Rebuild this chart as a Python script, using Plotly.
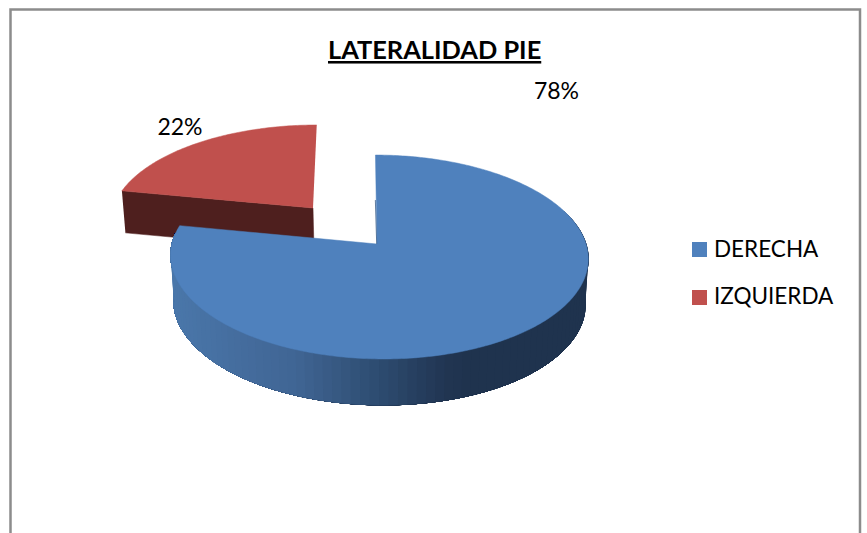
import numpy as np
import plotly.graph_objects as go

# ---- data ----
categories = ["DERECHA", "IZQUIERDA"]
values = [78, 22]
title_text = "LATERALIDAD PIE"

# ---- style / layout constants ----
FONT = "Lato, Carlito, Calibri, sans-serif"
BLUE, RED = "#4F81BD", "#C0504D"
RED_WALL = "#4E1F1E"
K = 0.1275  # perspective


def project(t, cx, cy, rx, ry, skew=0.0, r=1.0):
    """Angle t (deg, clockwise from 12 o'clock) -> plot position on a tilted disc."""
    a = np.radians(t)
    u, v = r * np.sin(a), r * np.cos(a)
    w = 1 + K * v
    return cx + (rx * u + skew * v) / w, cy - ry * v / w


def wall_colour(x):
    stops_x = [174, 300, 380, 450, 470, 590]
    stops = np.array([[74, 119, 170], [64, 101, 148], [46, 77, 114],
                      [33, 53, 82], [31, 51, 78], [31, 51, 78]], float)
    c = [np.interp(x, stops_x, stops[:, i]) for i in range(3)]
    return "rgb(%d,%d,%d)" % tuple(round(q) for q in c)


fig = go.Figure()


def poly(xs, ys, colour, line=0.5):
    fig.add_trace(go.Scatter(x=list(xs), y=list(ys), mode="lines", fill="toself",
                             fillcolor=colour,
                             line=dict(color=colour, width=line, simplify=False),
                             hoverinfo="skip", showlegend=False))


# angles from values (clockwise from 12 o'clock)
split = 360 * values[0] / sum(values)
blue_t = np.linspace(0, split, 300)
red_t = np.linspace(split, 360, 90)

# --- red slice (exploded, further back) ---
red = dict(cx=313.0, cy=208.0, rx=200.0, ry=93.6, skew=4.2)
rx_, ry_ = project(red_t, **red)
poly([rx_[0], red["cx"], red["cx"] + 1, rx_[0] + 3.5],
     [ry_[0], red["cy"], red["cy"] + 42, ry_[0] + 42], RED_WALL)
poly(np.r_[red["cx"], rx_], np.r_[red["cy"], ry_], RED)

# --- blue slice ---
top = dict(cx=379.0, cy=244.0, rx=207.0, ry=100.3, skew=-4.0)
bot = dict(cx=379.0, cy=290.0, rx=204.0, ry=100.3, skew=-4.0)
edges = np.linspace(70, 276, 90)
for a in edges[:-1]:  # painted from the right end, each strip overlapping the next
    ts = np.linspace(a, edges[-1], 40)
    x1, y1 = project(ts, **top)
    x2, y2 = project(ts[::-1], **bot)
    poly(np.r_[x1, x2], np.r_[y1, y2], wall_colour((x1[0] + x2[-1]) / 2))
bx, by = project(blue_t, **top)
poly(np.r_[top["cx"] - 2, bx, top["cx"] - 2], np.r_[top["cy"], by, top["cy"]], BLUE)
fig.add_trace(go.Scatter(x=[bx[0] - 0.1, top["cx"] - 2.3], y=[by[0] + 45, top["cy"]], mode="lines",
                         line=dict(color="#3A5E8A", width=0.8),
                         hoverinfo="skip", showlegend=False))

# --- percentage labels ---
fig.add_trace(go.Scatter(x=[556.5, 180], y=[93, 129.5], mode="text",
                         text=[f"{v}%" for v in values],
                         textposition="middle center",
                         textfont=dict(family=FONT, size=23, color="#000000"),
                         hoverinfo="skip", showlegend=False))

# --- legend ---
fig.add_trace(go.Scatter(x=[699.5, 699.5], y=[249.5, 297.5], mode="markers",
                         marker=dict(symbol="square", size=15, color=[BLUE, RED]),
                         hoverinfo="skip", showlegend=False))
fig.add_trace(go.Scatter(x=[714, 714], y=[251, 298], mode="text",
                         text=categories, textposition="middle right",
                         textfont=dict(family=FONT, size=22.5, color="#000000"),
                         hoverinfo="skip", showlegend=False))

fig.add_shape(type="rect", x0=10.5, y0=9.5, x1=860, y1=560, xref="x", yref="y",
              line=dict(color="#8C8C8C", width=2.5), layer="below")

fig.add_annotation(x=434.5, y=48.5, xref="x", yref="y", showarrow=False,
                   text=f"<b><u>{title_text}</u></b>",
                   font=dict(family=FONT, size=25.4, color="#000000"))

fig.update_xaxes(visible=False, range=[0, 867], fixedrange=True)
fig.update_yaxes(visible=False, range=[533, 0], fixedrange=True)
fig.update_layout(width=867, height=533, margin=dict(l=0, r=0, t=0, b=0),
                  paper_bgcolor="white", plot_bgcolor="white", showlegend=False)

fig.write_html("out.html", config={"displayModeBar": False},
               post_script="document.body.style.margin='0';document.body.style.overflow='hidden';")
